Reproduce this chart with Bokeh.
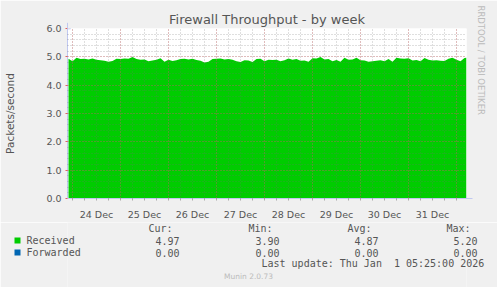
from bokeh.plotting import figure
from bokeh.models import Range1d, FixedTicker, Title, Arrow, NormalHead, PrintfTickFormatter, Grid
from bokeh.layouts import column
from bokeh.embed import file_html
from bokeh.resources import INLINE
from bokeh.core.properties import value

# ---- data (hours relative to 24 Dec 00:00) ----
hours = [-2 + 2 * i for i in range(100)] + [197]
received = [
    4.93, 4.84, 4.97, 4.92, 4.93, 4.91, 4.94, 4.90, 4.88,
    4.86, 4.83, 4.85, 4.93, 4.92, 4.94, 4.93, 4.99,
    4.92, 4.90, 4.91, 4.84, 4.87, 4.90, 4.95, 4.83,
    4.90, 4.85, 4.88, 4.92, 4.93, 4.91, 4.93, 4.89, 4.86, 4.80, 4.83, 4.92, 4.93,
    4.94, 4.91, 4.92, 4.90, 4.84, 4.82, 4.88, 4.87, 4.82, 4.92, 4.93, 4.84, 4.90,
    4.89, 4.90, 4.84, 4.88, 4.94, 4.90, 4.92, 4.86, 4.87, 4.83, 4.95, 4.94, 4.99,
    4.91, 4.92, 4.84, 4.89, 4.83, 4.97, 4.90, 4.91, 4.97, 4.88, 4.87, 4.83,
    4.84, 4.86, 4.88, 4.84, 4.92, 4.83, 4.97, 4.94, 4.93, 4.95, 4.87, 4.89,
    4.84, 4.96, 4.90, 4.87, 4.88, 4.86, 4.85, 4.93, 4.97, 4.90, 4.84, 4.96,
    4.97,
]
forwarded_hours = [-2, 197]
forwarded = [0.0, 0.0]

day_labels = ["24 Dec", "25 Dec", "26 Dec", "27 Dec", "28 Dec", "29 Dec", "30 Dec", "31 Dec"]
label_hours = [12, 36, 60, 84, 108, 132, 156, 180]
midnights = [0, 24, 48, 72, 96, 120, 144, 168, 192]
six_hourly = list(range(0, 198, 6))
y_major = [0, 1, 2, 3, 4, 5, 6]
y_minor = [round(0.2 * i, 1) for i in range(31)]

series_names = ["Received", "Forwarded"]
series_colors = ["#00CC00", "#0066B3"]
cur_vals = ["4.97", "0.00"]
min_vals = ["3.90", "0.00"]
avg_vals = ["4.87", "0.00"]
max_vals = ["5.20", "0.00"]
last_update = "Last update: Thu Jan \u00a01 05:25:00 2026"

TXT = "#555555"
AXC = "#C0C8F0"

p = figure(width=497, height=222, x_range=Range1d(-2.5, 197), y_range=Range1d(0, 6),
           output_backend="svg", toolbar_location=None,
           min_border_left=67, min_border_right=31, min_border_top=28, min_border_bottom=19,
           background_fill_color="white", border_fill_color="#F0F0F0", outline_line_color=None)

p.title.text = "Firewall Throughput - by week"
p.title.align = "center"
p.title.offset = -18
p.title.standoff = 3
p.title.text_font = "DejaVu Sans"
p.title.text_font_size = "13px"
p.title.text_font_style = "normal"
p.title.text_color = TXT

p.varea(x=hours, y1=0, y2=received, fill_color="#00CC00")
p.line(x=forwarded_hours, y=forwarded, line_color="#0066B3", line_width=1)

# grids drawn above the area, as in rrdtool: minor (grey) then major (red)
p.xgrid.visible = False
p.ygrid.visible = False
for dim, minor, major in ((0, six_hourly, midnights), (1, y_minor, y_major)):
    gmin = Grid(dimension=dim, ticker=FixedTicker(ticks=minor), level="overlay",
                grid_line_color="#707070", grid_line_alpha=0.45, grid_line_dash="1 2")
    gmaj = Grid(dimension=dim, ticker=FixedTicker(ticks=major), level="overlay",
                grid_line_color="#E06060", grid_line_alpha=0.55, grid_line_dash="1 2")
    p.add_layout(gmin)
    p.add_layout(gmaj)

xa = p.xaxis[0]
xa.ticker = FixedTicker(ticks=label_hours, minor_ticks=six_hourly)
xa.major_label_overrides = {h: lab for h, lab in zip(label_hours, day_labels)}
xa.major_tick_line_color = None
xa.minor_tick_in = 0
xa.minor_tick_out = 2
xa.minor_tick_line_color = "#AAAAAA"
xa.major_label_standoff = 4

ya = p.yaxis[0]
ya.ticker = FixedTicker(ticks=y_major, minor_ticks=y_minor)
ya.formatter = PrintfTickFormatter(format="%.1f")
ya.major_tick_in = 0
ya.major_tick_out = 2
ya.major_tick_line_color = "#E06060"
ya.minor_tick_in = 0
ya.minor_tick_out = 0
ya.major_label_standoff = 4
ya.axis_label = "Packets/second"
ya.axis_label_standoff = 27
ya.axis_label_text_font = "DejaVu Sans"
ya.axis_label_text_font_size = "10.5px"
ya.axis_label_text_font_style = "normal"
ya.axis_label_text_color = TXT

for ax in (xa, ya):
    ax.axis_line_color = AXC
    ax.major_label_text_font = "DejaVu Sans"
    ax.major_label_text_font_size = "9.5px"
    ax.major_label_text_color = TXT

p.add_layout(Arrow(end=NormalHead(size=6, fill_color=AXC, line_color=AXC),
                   x_start=-2.5, y_start=6.0, x_end=-2.5, y_end=6.2,
                   line_color=AXC))
p.add_layout(Arrow(end=NormalHead(size=6, fill_color=AXC, line_color=AXC),
                   x_start=197, y_start=0, x_end=200, y_end=0,
                   line_color=AXC))

side = Title(text="RRDTOOL / TOBI OETIKER", align="left", offset=-23, standoff=18,
             text_font="DejaVu Sans", text_font_size="8.5px",
             text_font_style="normal", text_color="#BBBBBB")
p.add_layout(side, "right")

# ---- legend panel (x in canvas pixels, y in pixels from the panel top) ----
lg = figure(width=497, height=65, x_range=Range1d(67, 466), y_range=Range1d(65, 0),
            output_backend="svg", toolbar_location=None,
            min_border_left=67, min_border_right=31, min_border_top=0, min_border_bottom=0,
            x_axis_type=None, y_axis_type=None,
            background_fill_color="#F0F0F0", border_fill_color="#F0F0F0",
            outline_line_color=None)
lg.grid.visible = False

row_y = [18, 30]
mono = dict(text_font=value("DejaVu Sans Mono"), text_font_size="10px",
            text_color=TXT, text_baseline="middle")

rs = []
rs.append(lg.rect(x=[17, 17], y=row_y, width=6, height=6, fill_color=series_colors, line_color=None))
rs.append(lg.text(x=[26, 26], y=row_y, text=series_names, text_align="left", **mono))
rs.append(lg.text(x=[172, 272, 371, 470], y=[6, 6, 6, 6], text=["Cur:", "Min:", "Avg:", "Max:"],
                  text_align="right", **mono))
for xr, vals in zip([179, 279, 378, 477], [cur_vals, min_vals, avg_vals, max_vals]):
    rs.append(lg.text(x=[xr, xr], y=row_y, text=vals, text_align="right", **mono))
rs.append(lg.text(x=[261], y=[41], text=[last_update], text_align="left", **mono))
rs.append(lg.text(x=[248], y=[54], text=["Munin 2.0.73"], text_align="center",
                  text_font=value("DejaVu Sans"), text_font_size="7.5px",
                  text_color="#BBBBBB", text_baseline="middle"))
for r in rs:
    r.level = "overlay"

layout = column(p, lg, spacing=0)
open("out.html", "w").write(file_html(layout, INLINE))
